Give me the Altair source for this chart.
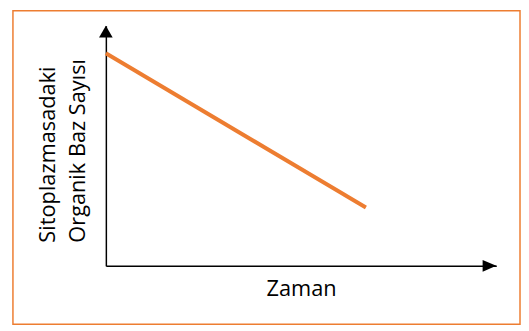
import altair as alt
import pandas as pd

# Data
zaman = [0.0, 6.66]
baz_sayisi = [8.85, 2.43]
y_title = ["Sitoplazmasadaki", "Organik Baz Sayısı"]
x_title = "Zaman"

ORANGE = "#ED7D31"
FONT = "Open Sans"

df = pd.DataFrame({"t": zaman, "v": baz_sayisi})
xs = alt.Scale(domain=[0, 10], nice=False, zero=False)
ys = alt.Scale(domain=[0, 10], nice=False, zero=False)

frame = alt.Chart(pd.DataFrame({"a": [0]})).mark_rect(
    fill="white", fillOpacity=0, stroke=ORANGE, strokeWidth=1.5
).encode(x=alt.value(-94), x2=alt.value(419), y=alt.value(-15), y2=alt.value(302))

line = alt.Chart(df).mark_line(color=ORANGE, strokeWidth=4).encode(
    x=alt.X("t:Q", scale=xs,
            axis=alt.Axis(title=x_title, labels=False, ticks=False, grid=False,
                          domainColor="black", domainWidth=1.5,
                          titleFont=FONT, titleFontSize=22, titleFontWeight="normal",
                          titleColor="black", titleX=197.5, titleY=29.5,
                          titleAlign="center", titleBaseline="alphabetic")),
    y=alt.Y("v:Q", scale=ys,
            axis=alt.Axis(title=y_title, labels=False, ticks=False, grid=False,
                          domainColor="black", domainWidth=1.5,
                          titleFont=FONT, titleFontSize=22, titleFontWeight="normal",
                          titleColor="black", titleAngle=270, titleX=-51.5, titleY=219,
                          titleAlign="left", titleBaseline="alphabetic", titleLineHeight=30)),
)

arrows_df = pd.DataFrame({"t": [10, 0], "v": [0, 10],
                          "shape": ["M0,0L-2.3,-1L-2.3,1Z", "M0,0L-1.15,2L1.15,2Z"]})
arrows = alt.Chart(arrows_df).mark_point(filled=True, color="black", opacity=1, size=144).encode(
    x=alt.X("t:Q", scale=xs), y=alt.Y("v:Q", scale=ys),
    shape=alt.Shape("shape:N", scale=None, legend=None),
)

chart = alt.layer(frame, line, arrows).properties(
    width=395, height=243,
    autosize=alt.AutoSizeParams(type="none"),
    padding={"left": 99, "top": 16, "right": 25, "bottom": 63},
).configure_view(strokeWidth=0)

chart.save("out.html", embed_options={"renderer": "svg", "actions": False})
